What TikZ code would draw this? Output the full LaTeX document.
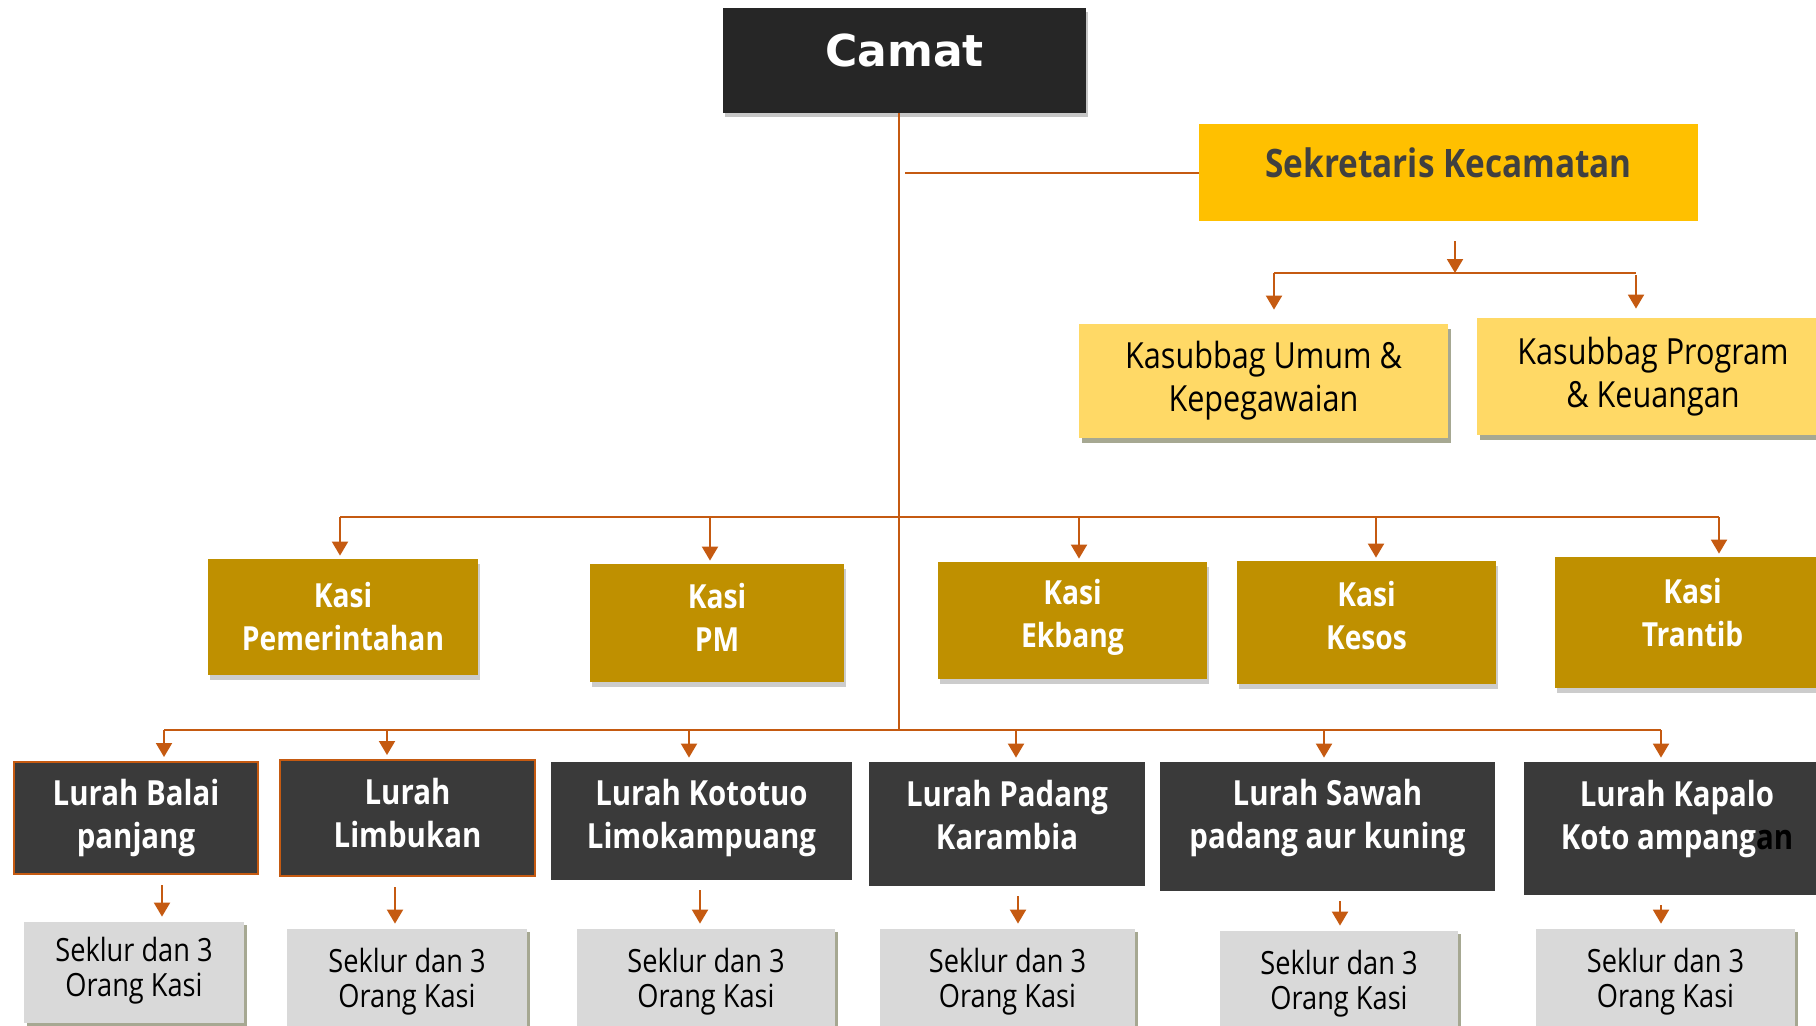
\documentclass[tikz,border=0pt]{standalone}
\usepackage{fontspec}
\setmainfont{Open Sans}[FakeStretch=0.85]
\newfontfamily\camatfont{DejaVu Sans}
\usepackage{tikz}
\usetikzlibrary{arrows.meta}
\usetikzlibrary{shadows}

\definecolor{camatgray}{HTML}{262626}
\definecolor{sekgold}{HTML}{FFC000}
\definecolor{sektext}{HTML}{404040}
\definecolor{subyellow}{HTML}{FFD966}
\definecolor{kasigold}{HTML}{BF9000}
\definecolor{lurahgray}{HTML}{3A3A3A}
\definecolor{seklurgray}{HTML}{D9D9D9}
\definecolor{linkorange}{HTML}{C55A11}
\definecolor{shadowolive}{HTML}{A6A892}

\newcommand{\lift}[1]{\rule[-#1]{0pt}{#1}}

\begin{document}
\begin{tikzpicture}[
		x=0.5pt,y=-0.5pt,
		every node/.style={rectangle,align=center,inner sep=0pt},
		wh/.style 2 args={minimum width=#1*0.5pt,minimum height=#2*0.5pt},
		camatbox/.style={fill=camatgray,text=white,font=\camatfont\bfseries\fontsize{22}{26}\selectfont,
			drop shadow={shadow xshift=1pt,shadow yshift=-2pt,opacity=0.45}},
		sekbox/.style={fill=sekgold,text=sektext,font=\bfseries\fontsize{19.6}{23}\selectfont},
		subbox/.style={fill=subyellow,font=\fontsize{18}{21.5}\selectfont,
			drop shadow={shadow xshift=1.5pt,shadow yshift=-2.5pt,fill=shadowolive,opacity=1}},
		kasibox/.style={fill=kasigold,text=white,font=\bfseries\fontsize{16.6}{21.5}\selectfont,
			drop shadow={shadow xshift=0.8pt,shadow yshift=-2.5pt,opacity=0.4}},
		lurahbox/.style={fill=lurahgray,text=white,font=\bfseries\fontsize{17.3}{21.5}\selectfont},
		seklurbox/.style={fill=seklurgray,font=\fontsize{16}{17.5}\selectfont,
			drop shadow={shadow xshift=1.5pt,shadow yshift=-1.5pt,fill=shadowolive,opacity=1}},
		link/.style={draw=linkorange,line width=1pt},
		arr/.style={link,-{Triangle[width=8pt,length=7pt]}}
		]
		\useasboundingbox (0,0) rectangle (1816,1025);
		\clip (0,0) rectangle (1816,1025);

		\node[camatbox,wh={363}{105}] (camat) at (904.5,60.5) {Camat\lift{10pt}};
		\node[sekbox,wh={499}{97}] (sek) at (1448.5,172.5) {Sekretaris Kecamatan\lift{10pt}};
		\node[subbox,wh={369}{114}] (umum) at (1263.5,381) {Kasubbag Umum \&\\Kepegawaian};
		\node[subbox,wh={352}{117}] (prog) at (1653,376.5) {Kasubbag Program\\\& Keuangan};

		\node[kasibox,wh={270}{116}] (pem) at (343,617) {Kasi\\Pemerintahan};
		\node[kasibox,wh={254}{118}] (pm) at (717,623) {Kasi\\PM\lift{6pt}};
		\node[kasibox,wh={269}{117}] (ekbang) at (1072.5,620.5) {Kasi\\Ekbang\lift{7pt}};
		\node[kasibox,wh={259}{123}] (kesos) at (1366.5,622.5) {Kasi\\Kesos\lift{7.5pt}};
		\node[kasibox,wh={275}{131}] (trantib) at (1692.5,622.5) {Kasi\\Trantib\lift{10pt}};

		\node[lurahbox,wh={244}{112},draw=linkorange,line width=1pt] (lurah1) at (136,818) {Lurah Balai\\panjang\lift{1pt}};
		\node[lurahbox,wh={255}{116},draw=linkorange,line width=1pt] (lurah2) at (407.5,818) {Lurah\\Limbukan\lift{5pt}};
		\node[lurahbox,wh={301}{118}] (lurah3) at (701.5,821) {Lurah Kototuo\\Limokampuang\lift{7pt}};
		\node[lurahbox,wh={276}{124}] (lurah4) at (1007,824) {Lurah Padang\\Karambia\lift{9pt}};
		\node[lurahbox,wh={335}{129}] (lurah5) at (1327.5,826.5) {Lurah Sawah\\padang aur kuning\lift{13pt}};
		\node[lurahbox,wh={306}{133}] (lurah6) at (1677,828.5) {Lurah Kapalo\\Koto ampang\textcolor{black}{an}\lift{14pt}};

		\node[seklurbox,wh={220}{101}] (seklur1) at (134,972.5) {Seklur dan 3\\Orang Kasi\lift{6pt}};
		\node[seklurbox,wh={240}{116}] (seklur2) at (407,987) {Seklur dan 3\\Orang Kasi\lift{9pt}};
		\node[seklurbox,wh={258}{116}] (seklur3) at (706,987) {Seklur dan 3\\Orang Kasi\lift{9pt}};
		\node[seklurbox,wh={255}{116}] (seklur4) at (1007.5,987) {Seklur dan 3\\Orang Kasi\lift{9pt}};
		\node[seklurbox,wh={238}{116}] (seklur5) at (1339,989) {Seklur dan 3\\Orang Kasi\lift{9pt}};
		\node[seklurbox,wh={259}{116}] (seklur6) at (1665.5,987) {Seklur dan 3\\Orang Kasi\lift{9pt}};

		\coordinate (hub) at (899,730);
		\coordinate (sekfork) at (1455,273);
		\coordinate (umumfork) at (1274,273);
		\coordinate (progfork) at (1636,275);

		\draw[link] (camat.south -| hub) -- (hub);
		\draw[link] (sek.west -| hub) ++(6,0) -- (sek.west);
		\draw[arr,shorten <=10pt] (sek.south -| sekfork) -- (sekfork);
		\draw[link] (umumfork) -- (progfork |- umumfork);
		\draw[arr,shorten >=7pt] (umumfork) -- (umumfork |- umum.north);
		\draw[arr,shorten >=4.5pt] (progfork) -- (progfork |- prog.north);

		\foreach \n/\x in {pem/340,pm/710,ekbang/1079,kesos/1376,trantib/1719}{
			\coordinate (k\n) at (\x,517);
			\draw[arr,shorten >=1.5pt] (k\n) -- (k\n |- \n.north);
		}
		\draw[link] (kpem) -- (ktrantib);

		\foreach \n/\x in {1/164,2/387,3/689,4/1016,5/1324,6/1661}{
			\coordinate (l\n) at (\x,730);
			\draw[arr,shorten >=2pt] (l\n) -- (l\n |- lurah\n.north);
		}
		\draw[link] (l1) -- (l6);

		\foreach \n/\x in {1/162,2/395,3/700,4/1018,5/1340,6/1661}{
			\coordinate (d\n) at (\x,0);
			\draw[arr,shorten <=5pt,shorten >=2.5pt] (d\n |- lurah\n.south) -- (d\n |- seklur\n.north);
		}
	\end{tikzpicture}
\end{document}
